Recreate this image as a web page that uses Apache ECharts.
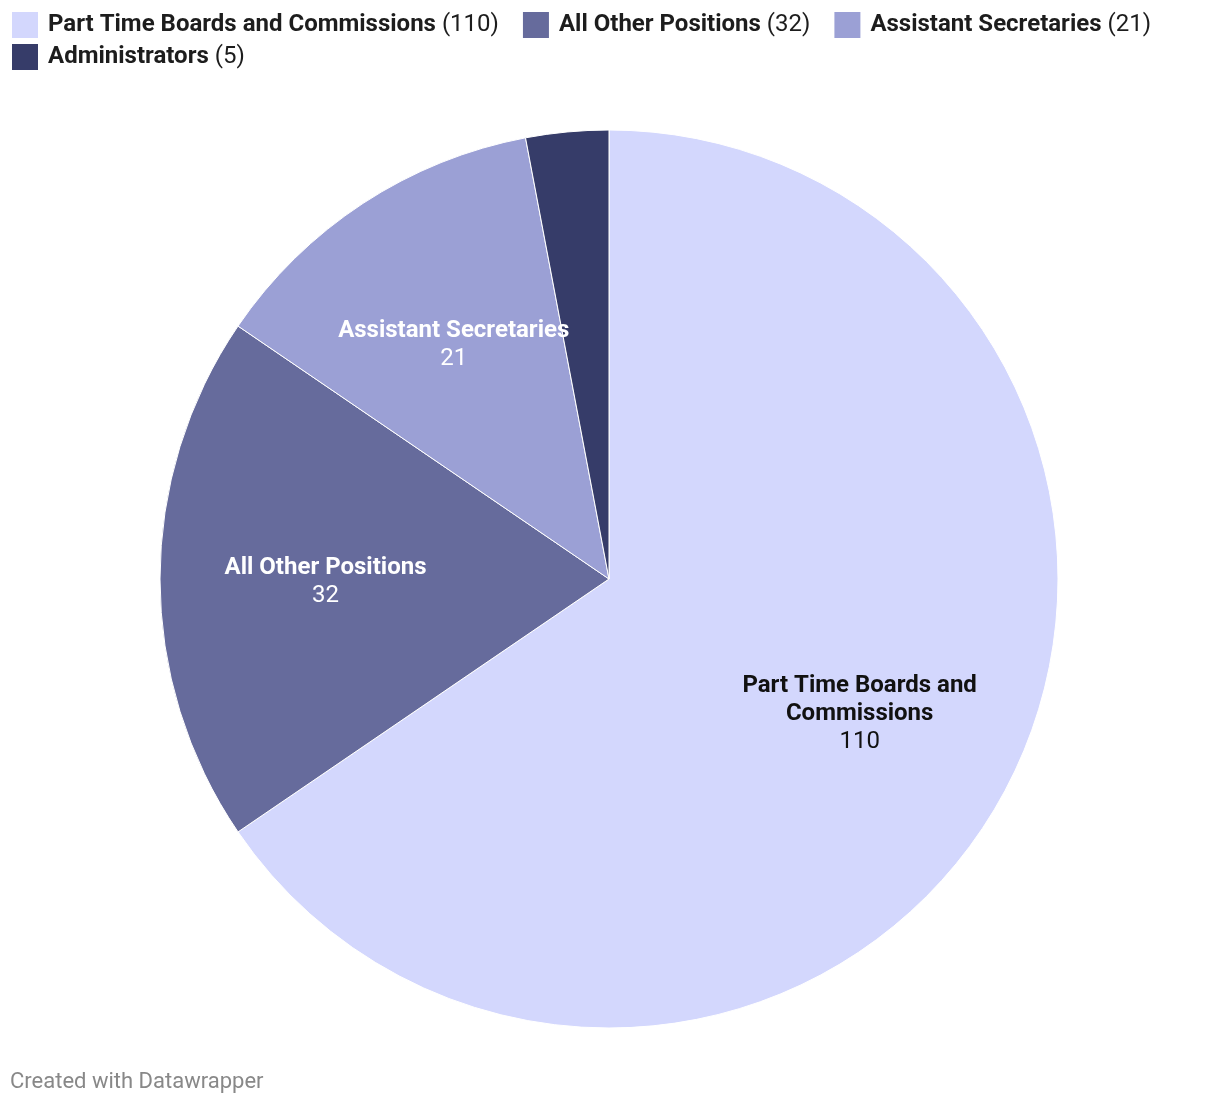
<!DOCTYPE html>
<html>
<head>
<meta charset="utf-8">
<script src="https://cdn.jsdelivr.net/npm/echarts@6/dist/echarts.min.js"></script>
<style>
html,body{margin:0;padding:0;background:#fff;}
#chart{width:1220px;height:1106px;}
</style>
</head>
<body>
<div id="chart"></div>
<script>
const categories = ['Part Time Boards and Commissions', 'All Other Positions', 'Assistant Secretaries', 'Administrators'];
const values = [110, 32, 21, 5];
const sliceLabels = ['Part Time Boards and\nCommissions', 'All Other Positions', 'Assistant Secretaries', 'Administrators'];
const colors = ['#d3d7fd', '#666b9c', '#9ba0d5', '#363c69'];
const labelColors = ['#111111', '#ffffff', '#ffffff', '#ffffff'];
const footer = 'Created with Datawrapper';

const FONT = 'Roboto, "Noto Sans", sans-serif';
const chart = echarts.init(document.getElementById('chart'), null, {renderer: 'canvas'});

const pieData = categories.map((c, i) => ({name: c, value: values[i], itemStyle: {color: colors[i]}}));
const labelData = categories.map((c, i) => ({
  name: c, value: values[i],
  itemStyle: {color: 'rgba(0,0,0,0)', borderWidth: 0},
  label: {
    show: i < 3,
    offset: [0, 3],
    formatter: () => '{b|' + sliceLabels[i].split('\n').join('}\n{b|') + '}\n{v|' + values[i] + '}',
    rich: {
      b: {fontFamily: FONT, fontSize: 24, fontWeight: 'bold', color: labelColors[i], lineHeight: 28, align: 'center'},
      v: {fontFamily: FONT, fontSize: 24, fontWeight: 'normal', color: labelColors[i], lineHeight: 28, align: 'center'}
    }
  }
}));

const legendFormatter = (name) => {
  const i = categories.indexOf(name);
  return '{b|' + name + '}{n| (' + values[i] + ')}';
};
const legendText = {
  rich: {
    b: {fontFamily: FONT, fontSize: 24, fontWeight: 'bold', color: '#1d1d1d', lineHeight: 28, padding: [0, 0, 0, 4]},
    n: {fontFamily: FONT, fontSize: 24, fontWeight: 'normal', color: '#1d1d1d', lineHeight: 28}
  }
};

chart.setOption({
  animation: false,
  color: colors,
  legend: [
    {
      data: categories.slice(0, 3), left: 10, top: 10, orient: 'horizontal', padding: 0,
      icon: 'rect', itemWidth: 28, itemHeight: 28, itemGap: 22,
      formatter: legendFormatter, textStyle: legendText, selectedMode: false
    },
    {
      data: categories.slice(3), left: 10, top: 42, orient: 'horizontal', padding: 0,
      icon: 'rect', itemWidth: 28, itemHeight: 28, itemGap: 22,
      formatter: legendFormatter, textStyle: legendText, selectedMode: false
    }
  ],
  graphic: [{
    type: 'text', left: 10, top: 1071,
    style: {text: footer, fontFamily: FONT, fontSize: 22, fill: '#888888'}
  }],
  series: [
    {
      type: 'pie', center: [609, 579], radius: [0, 449],
      startAngle: 90, clockwise: true, silent: true,
      itemStyle: {borderColor: '#ffffff', borderWidth: 1},
      label: {show: false}, labelLine: {show: false},
      data: pieData
    },
    {
      type: 'pie', center: [609, 579], radius: [112, 449],
      startAngle: 90, clockwise: true, silent: true,
      label: {position: 'inside'}, labelLine: {show: false},
      data: labelData
    }
  ]
});
</script>
</body>
</html>
